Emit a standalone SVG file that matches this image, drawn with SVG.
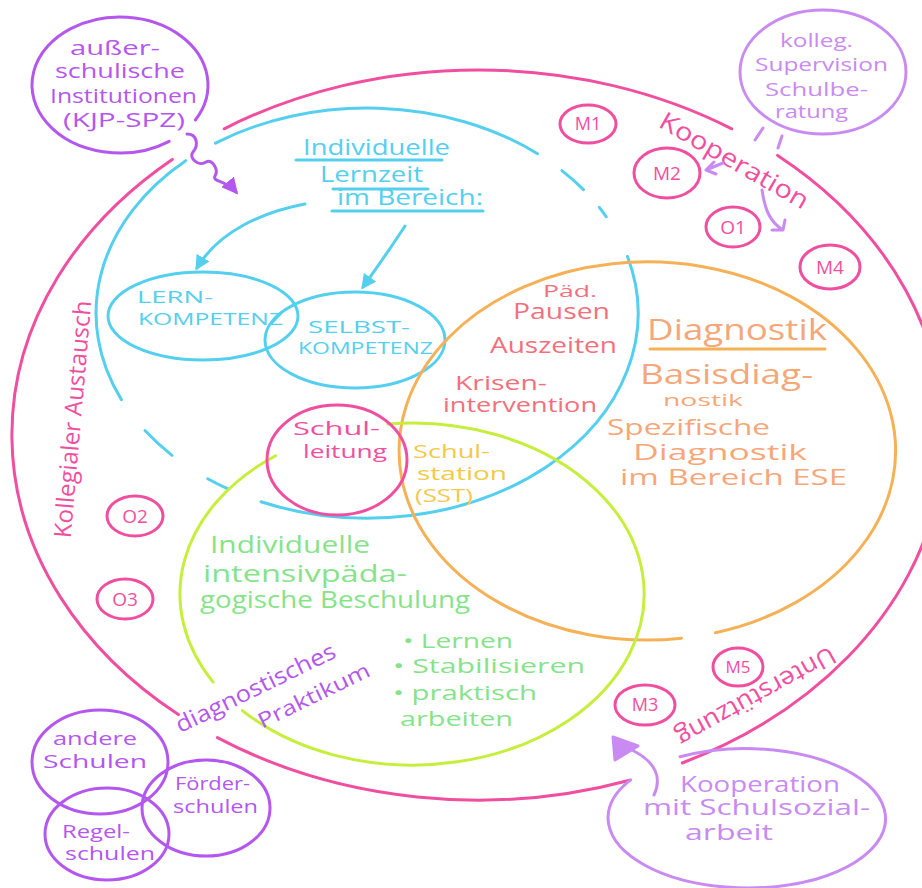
<svg xmlns="http://www.w3.org/2000/svg" width="922" height="888" viewBox="0 0 922 888">
<style>
.ln{fill:none;stroke-width:3;stroke-linecap:round;stroke-linejoin:round}
.pk{stroke:#f04fa0}
.cy{stroke:#55cfee}
.or{stroke:#f5b157}
.gr{stroke:#c6ee3c}
.pu{stroke:#b457ee}
.lv{stroke:#c98af2}
text{font-family:"Open Sans","Noto Sans",sans-serif}
.tpk{fill:#f04fa0}
.tcy{fill:#55cfee}
.tpu{fill:#b457ee}
.tlv{fill:#c98af2}
.tsa{fill:#f2707c}
.tor{fill:#f5a77a}
.tye{fill:#f5c947}
.tgr{fill:#86e38a}
</style>
<defs>
<marker id="acy" viewBox="0 0 10 10" refX="8" refY="5" markerWidth="5" markerHeight="5" orient="auto" markerUnits="strokeWidth"><path d="M0,0 L10,5 L0,10 z" fill="#55cfee"/></marker>
<marker id="apu" viewBox="0 0 10 10" refX="8" refY="5" markerWidth="5.5" markerHeight="5.5" orient="auto" markerUnits="strokeWidth"><path d="M0,0 L10,5 L0,10 z" fill="#b457ee"/></marker>
</defs>

<g id="outer-ring">
<path class="ln pk" d="M172.3,159.4 A466 365 0 0 0 178.4,714.6"/>
<path class="ln pk" d="M217.4,737.6 A466 365 0 0 0 629.7,780.2"/>
<path class="ln pk" d="M682.3,763 A466 365 0 0 0 777.6,155.4"/>
<path class="ln pk" d="M731.8,128.8 A466 365 0 0 0 224.2,128.8"/>
<text class="tpk" font-size="25" text-anchor="middle" textLength="168" lengthAdjust="spacingAndGlyphs" transform="translate(730,168) rotate(30)">Kooperation</text>
<text class="tpk" font-size="24" text-anchor="middle" textLength="238" lengthAdjust="spacingAndGlyphs" transform="translate(81,420) rotate(-85)">Kollegialer Austausch</text>
<text class="tpk" font-size="25" text-anchor="middle" textLength="178" lengthAdjust="spacingAndGlyphs" transform="translate(752,689) rotate(151)">Unterstützung</text>
</g>

<g id="lernzeit">
<path class="ln cy" d="M185.7,160.7 A271 205 0 0 0 121.4,399.6"/>
<path class="ln cy" d="M145,430.6 A271 205 0 0 0 172,455.4"/>
<path class="ln cy" d="M207.7,478.8 A271 205 0 0 0 227.4,488.7"/>
<path class="ln cy" d="M261,501.8 A271 205 0 0 0 627.5,256.5"/>
<path class="ln cy" d="M606.3,216.8 A271 205 0 0 0 599.3,207.4"/>
<path class="ln cy" d="M583.5,189.6 A271 205 0 0 0 561.9,170.6"/>
<path class="ln cy" d="M537.5,153.7 A271 205 0 0 0 215.5,143.1"/>
<text class="tcy" font-size="21" x="303" y="155" textLength="147" lengthAdjust="spacingAndGlyphs">Individuelle</text>
<text class="tcy" font-size="21" x="320" y="182" textLength="103" lengthAdjust="spacingAndGlyphs">Lernzeit</text>
<text class="tcy" font-size="21" x="337" y="205" textLength="146" lengthAdjust="spacingAndGlyphs">im Bereich:</text>
<path class="ln cy" d="M296,160 L442,160 M333,189 L428,189 M332,211 L483,211"/>
</g>

<g id="lernkompetenz">
<ellipse class="ln cy" cx="203" cy="316" rx="95" ry="44"/>
<text class="tcy" font-size="17" x="137" y="303" textLength="76" lengthAdjust="spacingAndGlyphs">LERN-</text>
<text class="tcy" font-size="17" x="138" y="325" textLength="145" lengthAdjust="spacingAndGlyphs">KOMPETENZ</text>
</g>

<g id="selbstkompetenz">
<ellipse class="ln cy" cx="355" cy="340" rx="90" ry="48"/>
<text class="tcy" font-size="17" x="308" y="333" textLength="102" lengthAdjust="spacingAndGlyphs">SELBST-</text>
<text class="tcy" font-size="17" x="298" y="354" textLength="135" lengthAdjust="spacingAndGlyphs">KOMPETENZ</text>
</g>

<g id="diagnostik">
<path class="ln or" d="M681.5,638.2 A248 189 0 0 1 612.5,263.8 A248 189 0 0 1 715.4,632.7"/>
<text class="tor" font-size="30" x="647" y="340" textLength="180" lengthAdjust="spacingAndGlyphs">Diagnostik</text>
<path class="ln or" d="M650,349 L825,349"/>
<text class="tor" font-size="28" x="640" y="384" textLength="173" lengthAdjust="spacingAndGlyphs">Basisdiag-</text>
<text class="tor" font-size="16" x="663" y="406" textLength="80" lengthAdjust="spacingAndGlyphs">nostik</text>
<text class="tor" font-size="22" x="607" y="435" textLength="163" lengthAdjust="spacingAndGlyphs">Spezifische</text>
<text class="tor" font-size="22" x="633" y="460" textLength="174" lengthAdjust="spacingAndGlyphs">Diagnostik</text>
<text class="tor" font-size="22" x="620" y="485" textLength="227" lengthAdjust="spacingAndGlyphs">im Bereich ESE</text>
</g>

<g id="auszeiten">
<text class="tsa" font-size="17" x="543" y="297" textLength="54" lengthAdjust="spacingAndGlyphs">Päd.</text>
<text class="tsa" font-size="21" x="513" y="319" textLength="97" lengthAdjust="spacingAndGlyphs">Pausen</text>
<text class="tsa" font-size="22" x="490" y="353" textLength="127" lengthAdjust="spacingAndGlyphs">Auszeiten</text>
<text class="tsa" font-size="20" x="455" y="390" textLength="92" lengthAdjust="spacingAndGlyphs">Krisen-</text>
<text class="tsa" font-size="20" x="443" y="412" textLength="154" lengthAdjust="spacingAndGlyphs">intervention</text>
</g>

<g id="beschulung">
<path class="ln gr" d="M387.8,424 A232 171 0 1 1 242.4,710.6"/>
<path class="ln gr" d="M213.1,682.1 A232 171 0 0 1 275.6,455.7"/>
<text class="tgr" font-size="23" x="210" y="553" textLength="160" lengthAdjust="spacingAndGlyphs">Individuelle</text>
<text class="tgr" font-size="23" x="203" y="582" textLength="204" lengthAdjust="spacingAndGlyphs">intensivpäda-</text>
<text class="tgr" font-size="23" x="200" y="608" textLength="270" lengthAdjust="spacingAndGlyphs">gogische Beschulung</text>
<text class="tgr" font-size="20" x="403" y="648" textLength="110" lengthAdjust="spacingAndGlyphs">• Lernen</text>
<text class="tgr" font-size="20" x="393" y="673" textLength="192" lengthAdjust="spacingAndGlyphs">• Stabilisieren</text>
<text class="tgr" font-size="20" x="393" y="700" textLength="144" lengthAdjust="spacingAndGlyphs">• praktisch</text>
<text class="tgr" font-size="20" x="400" y="726" textLength="113" lengthAdjust="spacingAndGlyphs">arbeiten</text>
</g>

<g id="schulleitung">
<ellipse class="ln pk" cx="337" cy="460" rx="70" ry="55"/>
<text class="tpk" font-size="19" x="293" y="435" textLength="87" lengthAdjust="spacingAndGlyphs">Schul-</text>
<text class="tpk" font-size="19" x="303" y="458" textLength="84" lengthAdjust="spacingAndGlyphs">leitung</text>
</g>

<g id="schulstation">
<text class="tye" font-size="18" x="413" y="458" textLength="77" lengthAdjust="spacingAndGlyphs">Schul-</text>
<text class="tye" font-size="18" x="417" y="480" textLength="90" lengthAdjust="spacingAndGlyphs">station</text>
<text class="tye" font-size="18" x="415" y="502" textLength="58" lengthAdjust="spacingAndGlyphs">(SST)</text>
</g>

<g id="ausserschulisch">
<path class="ln pu" d="M169.2,141.4 A88 68 0 0 1 70.8,28.6 A88 68 0 0 1 195.4,120"/>
<text class="tpu" font-size="20" x="70" y="55" textLength="90" lengthAdjust="spacingAndGlyphs">außer-</text>
<text class="tpu" font-size="20" x="55" y="78" textLength="130" lengthAdjust="spacingAndGlyphs">schulische</text>
<text class="tpu" font-size="20" x="50" y="103" textLength="147" lengthAdjust="spacingAndGlyphs">Institutionen</text>
<text class="tpu" font-size="20" x="63" y="127" textLength="122" lengthAdjust="spacingAndGlyphs">(KJP-SPZ)</text>
</g>

<g id="supervision">
<ellipse class="ln lv" cx="823" cy="72" rx="83" ry="62"/>
<text class="tlv" font-size="19" x="780" y="47" textLength="73" lengthAdjust="spacingAndGlyphs">kolleg.</text>
<text class="tlv" font-size="19" x="755" y="71" textLength="133" lengthAdjust="spacingAndGlyphs">Supervision</text>
<text class="tlv" font-size="19" x="765" y="96" textLength="103" lengthAdjust="spacingAndGlyphs">Schulbe-</text>
<text class="tlv" font-size="19" x="775" y="118" textLength="73" lengthAdjust="spacingAndGlyphs">ratung</text>
</g>

<g id="schulsozialarbeit">
<path class="ln lv" d="M680.1,756.8 A140 70 0 0 1 815.9,879.2 A140 70 0 0 1 630.6,779.9"/>
<text class="tlv" font-size="21" x="680" y="792" textLength="160" lengthAdjust="spacingAndGlyphs">Kooperation</text>
<text class="tlv" font-size="21" x="643" y="815" textLength="227" lengthAdjust="spacingAndGlyphs">mit Schulsozial-</text>
<text class="tlv" font-size="21" x="685" y="840" textLength="88" lengthAdjust="spacingAndGlyphs">arbeit</text>
</g>

<g id="andere-schulen">
<ellipse class="ln pu" cx="100" cy="762" rx="68" ry="52"/>
<text class="tpu" font-size="19" x="53" y="745" textLength="84" lengthAdjust="spacingAndGlyphs">andere</text>
<text class="tpu" font-size="19" x="43" y="768" textLength="104" lengthAdjust="spacingAndGlyphs">Schulen</text>
</g>
<g id="foerderschulen">
<ellipse class="ln pu" cx="206" cy="808" rx="64" ry="48"/>
<text class="tpu" font-size="19" x="175" y="790" textLength="75" lengthAdjust="spacingAndGlyphs">Förder-</text>
<text class="tpu" font-size="19" x="173" y="813" textLength="85" lengthAdjust="spacingAndGlyphs">schulen</text>
</g>
<g id="regelschulen">
<ellipse class="ln pu" cx="107" cy="834" rx="62" ry="46"/>
<text class="tpu" font-size="19" x="62" y="838" textLength="68" lengthAdjust="spacingAndGlyphs">Regel-</text>
<text class="tpu" font-size="19" x="65" y="860" textLength="90" lengthAdjust="spacingAndGlyphs">schulen</text>
</g>

<g id="praktikum">
<text class="tpu" font-size="23" text-anchor="middle" textLength="175" lengthAdjust="spacingAndGlyphs" transform="translate(259,695) rotate(-26)">diagnostisches</text>
<text class="tpu" font-size="21" text-anchor="middle" textLength="122" lengthAdjust="spacingAndGlyphs" transform="translate(317,702) rotate(-26)">Praktikum</text>
</g>

<g id="m1"><ellipse class="ln pk" cx="588" cy="124" rx="28" ry="19"/><text class="tpk" font-size="18" x="588" y="130" text-anchor="middle">M1</text></g>
<g id="m2"><ellipse class="ln pk" cx="667" cy="173" rx="33" ry="25"/><text class="tpk" font-size="19" x="667" y="180" text-anchor="middle">M2</text></g>
<g id="o1"><ellipse class="ln pk" cx="733" cy="227" rx="27" ry="20"/><text class="tpk" font-size="19" x="733" y="234" text-anchor="middle">O1</text></g>
<g id="m4"><ellipse class="ln pk" cx="830" cy="267" rx="30" ry="22"/><text class="tpk" font-size="19" x="830" y="274" text-anchor="middle">M4</text></g>
<g id="o2"><ellipse class="ln pk" cx="135" cy="516" rx="28" ry="20"/><text class="tpk" font-size="19" x="135" y="523" text-anchor="middle">O2</text></g>
<g id="o3"><ellipse class="ln pk" cx="125" cy="599" rx="28" ry="20"/><text class="tpk" font-size="19" x="125" y="606" text-anchor="middle">O3</text></g>
<g id="m5"><ellipse class="ln pk" cx="738" cy="667" rx="25" ry="19"/><text class="tpk" font-size="17" x="738" y="673" text-anchor="middle">M5</text></g>
<g id="m3"><ellipse class="ln pk" cx="645" cy="705" rx="30" ry="20"/><text class="tpk" font-size="18" x="645" y="711" text-anchor="middle">M3</text></g>

<g id="connectors">
<path class="ln cy" d="M305,204 C262,212 218,232 197,268" marker-end="url(#acy)"/>
<path class="ln cy" d="M405,226 C392,246 378,266 363,287" marker-end="url(#acy)"/>
<path class="ln pu" d="M187,134 C197,134 199,145 193,152 C188,158 199,167 206,162 C212,158 219,170 215,176 C212,182 226,180 236,192" marker-end="url(#apu)"/>
<path class="ln lv" d="M763,128 L755,140 M782,136 L778,148"/>
<path class="ln lv" d="M723,163 L706,170 M706,170 L714,162 M706,170 L716,174"/>
<path class="ln lv" d="M762,190 C765,210 770,222 783,230 M783,230 L772,230 M783,230 L785,220"/>
<path class="ln lv" d="M654,795 C662,778 656,762 632,750"/>
<path d="M613,737 L638,746 L615,760 Z" fill="#c98af2" stroke="#c98af2" stroke-width="3" stroke-linejoin="round"/>
</g>
</svg>
